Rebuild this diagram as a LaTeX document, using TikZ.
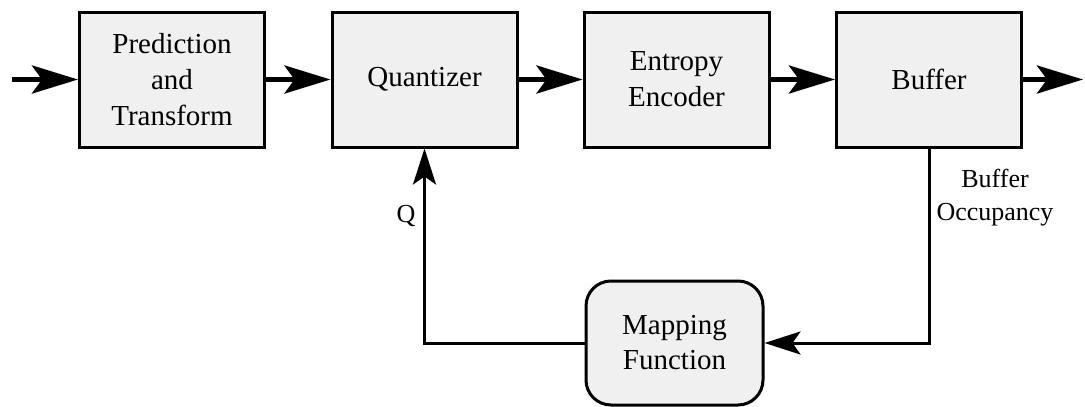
\documentclass[tikz,border=0pt]{standalone}
\usepackage{fontspec}
\setmainfont{Liberation Serif}
\usetikzlibrary{arrows.meta}
\begin{document}
\begin{tikzpicture}[x=1pt,y=-1pt,
  blk/.style={draw=black, line width=3pt, fill=gray!12, minimum width=185pt, minimum height=135pt,
    inner sep=0pt, align=center, font=\fontsize{29}{36}\selectfont},
  mapblk/.style={blk, rounded corners=25pt, minimum width=177pt, minimum height=124pt,
    font=\fontsize{29}{35}\selectfont},
  main/.style={line width=5pt, -{Stealth[length=46pt, width=28pt, inset=10pt]}},
  fb/.style={line width=3pt, -{Stealth[length=36pt, width=23pt, inset=8pt]}},
  fbline/.style={line width=3pt},
  lbl/.style={inner sep=0pt, align=center, font=\fontsize{26}{33}\selectfont}]
\useasboundingbox (0,0) rectangle (1085,407);

\node[blk] (pt) at (172,79.5) {Prediction\\and\\Transform};
\node[blk] (qz) at (424.5,79.5) {Quantizer};
\node[blk] (ee) at (676.5,79.5) {Entropy\\Encoder};
\node[blk] (bf) at (929,79.5) {Buffer};
\node[mapblk] (mf) at (674.5,343) {Mapping\\Function};

\coordinate (in) at (12,79.5);
\coordinate (out) at (1083,79.5);

\draw[main] (in) -- (pt.west);
\draw[main] (pt.east) -- (qz.west);
\draw[main] (qz.east) -- (ee.west);
\draw[main] (ee.east) -- (bf.west);
\draw[main] (bf.east) -- (out);

\draw[fb] (bf.south) |- (mf.east);
\draw[fb] (mf.west) -| (qz.south);

\node[lbl] (q) at (406,216) {Q};
\node[lbl] (bo) at (995,198) {Buffer\\Occupancy};
\end{tikzpicture}
\end{document}
